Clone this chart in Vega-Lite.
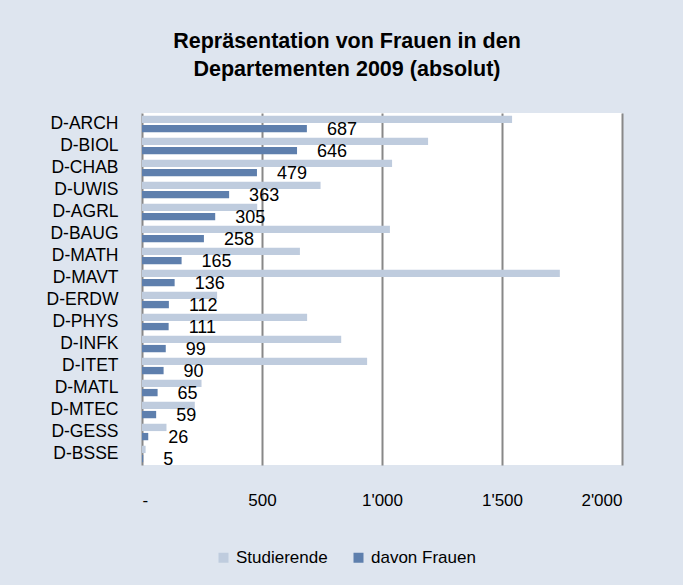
{
  "$schema": "https://vega.github.io/schema/vega-lite/v6.json",
  "autosize": {"type": "none"},
  "padding": {"left": 142, "top": 113, "right": 61, "bottom": 120},
  "width": 480,
  "height": 352,
  "background": "#DEE5EF",
  "title": {
    "text": ["Repräsentation von Frauen in den", "Departementen 2009 (absolut)"],
    "font": "Liberation Sans",
    "fontSize": 21.5,
    "fontWeight": "bold",
    "color": "#000000",
    "anchor": "middle",
    "dx": -35,
    "offset": 33,
    "lineHeight": 28
  },
  "data": {
    "values": [
      {"dept": "D-ARCH", "series": "Studierende", "value": 1542},
      {"dept": "D-ARCH", "series": "davon Frauen", "value": 687},
      {"dept": "D-BIOL", "series": "Studierende", "value": 1192},
      {"dept": "D-BIOL", "series": "davon Frauen", "value": 646},
      {"dept": "D-CHAB", "series": "Studierende", "value": 1042},
      {"dept": "D-CHAB", "series": "davon Frauen", "value": 479},
      {"dept": "D-UWIS", "series": "Studierende", "value": 744},
      {"dept": "D-UWIS", "series": "davon Frauen", "value": 363},
      {"dept": "D-AGRL", "series": "Studierende", "value": 480},
      {"dept": "D-AGRL", "series": "davon Frauen", "value": 305},
      {"dept": "D-BAUG", "series": "Studierende", "value": 1033},
      {"dept": "D-BAUG", "series": "davon Frauen", "value": 258},
      {"dept": "D-MATH", "series": "Studierende", "value": 658},
      {"dept": "D-MATH", "series": "davon Frauen", "value": 165},
      {"dept": "D-MAVT", "series": "Studierende", "value": 1741},
      {"dept": "D-MAVT", "series": "davon Frauen", "value": 136},
      {"dept": "D-ERDW", "series": "Studierende", "value": 313},
      {"dept": "D-ERDW", "series": "davon Frauen", "value": 112},
      {"dept": "D-PHYS", "series": "Studierende", "value": 688},
      {"dept": "D-PHYS", "series": "davon Frauen", "value": 111},
      {"dept": "D-INFK", "series": "Studierende", "value": 830},
      {"dept": "D-INFK", "series": "davon Frauen", "value": 99},
      {"dept": "D-ITET", "series": "Studierende", "value": 938},
      {"dept": "D-ITET", "series": "davon Frauen", "value": 90},
      {"dept": "D-MATL", "series": "Studierende", "value": 248},
      {"dept": "D-MATL", "series": "davon Frauen", "value": 65},
      {"dept": "D-MTEC", "series": "Studierende", "value": 220},
      {"dept": "D-MTEC", "series": "davon Frauen", "value": 59},
      {"dept": "D-GESS", "series": "Studierende", "value": 102},
      {"dept": "D-GESS", "series": "davon Frauen", "value": 26},
      {"dept": "D-BSSE", "series": "Studierende", "value": 15},
      {"dept": "D-BSSE", "series": "davon Frauen", "value": 5}
    ]
  },
  "encoding": {
    "y": {
      "field": "dept",
      "type": "nominal",
      "sort": null,
      "scale": {"paddingInner": 0.25, "paddingOuter": 0.125},
      "axis": {
        "title": null,
        "ticks": false,
        "domain": false,
        "labelFontSize": 17.5,
        "labelFont": "Liberation Sans",
        "labelColor": "#000000",
        "labelPadding": 24
      }
    },
    "yOffset": {
      "field": "series",
      "type": "nominal",
      "scale": {"domain": ["Studierende", "davon Frauen"], "paddingInner": 0.2}
    },
    "x": {
      "field": "value",
      "type": "quantitative",
      "scale": {"domain": [0, 2000], "nice": false},
      "axis": {
        "title": null,
        "values": [0, 500, 1000, 1500, 2000],
        "labelExpr": "datum.value == 0 ? '-' : replace(format(datum.value, ','), ',', \"'\")",
        "ticks": false,
        "domain": false,
        "grid": true,
        "gridColor": "#888888",
        "gridWidth": 2,
        "gridOpacity": 1,
        "labelFontSize": 17,
        "labelFont": "Liberation Sans",
        "labelColor": "#000000",
        "labelPadding": 27
      }
    }
  },
  "layer": [
    {
      "mark": {"type": "bar"},
      "encoding": {
        "color": {
          "field": "series",
          "type": "nominal",
          "scale": {"domain": ["Studierende", "davon Frauen"], "range": ["#BFCCDE", "#5E7FAD"]},
          "legend": {
            "title": null,
            "orient": "none",
            "direction": "horizontal",
            "legendX": 73,
            "legendY": 436,
            "symbolType": "square",
            "symbolSize": 100,
            "symbolStrokeWidth": 0,
            "labelFontSize": 17,
            "labelFont": "Liberation Sans",
            "labelColor": "#000000",
            "labelOffset": 4,
            "columnPadding": 22
          }
        }
      }
    },
    {
      "transform": [{"filter": "datum.series == 'davon Frauen'"}],
      "mark": {"type": "text", "align": "left", "baseline": "middle", "dx": 20, "dy": 1, "fontSize": 18, "font": "Liberation Sans", "color": "#000000"},
      "encoding": {
        "text": {"field": "value", "type": "quantitative", "format": "d"}
      }
    }
  ],
  "config": {
    "view": {"fill": "#FFFFFF", "stroke": null}
  }
}
